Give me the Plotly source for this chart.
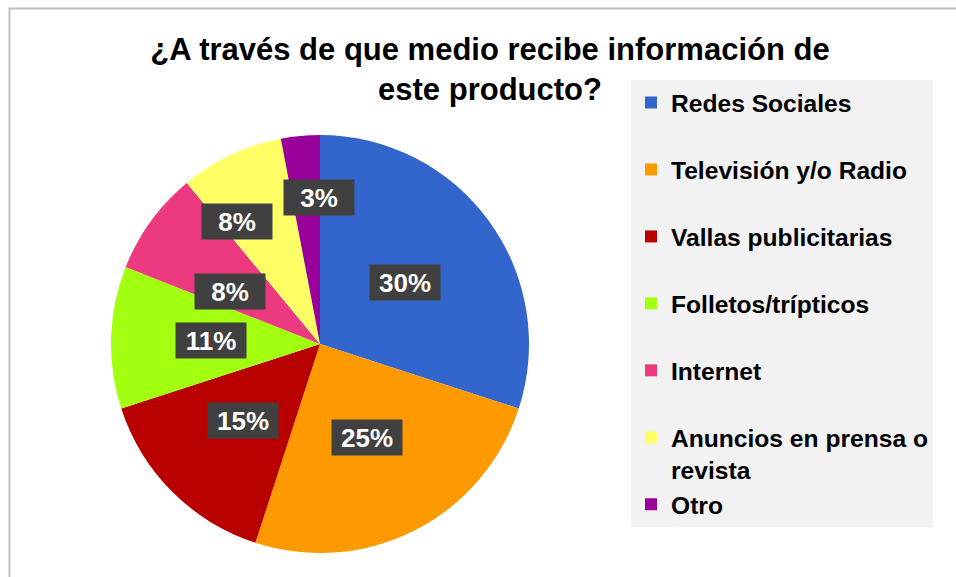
import math
import plotly.graph_objects as go

# Chart data
categories = ["Redes Sociales", "Televisión y/o Radio", "Vallas publicitarias",
              "Folletos/trípticos", "Internet", "Anuncios en prensa o revista", "Otro"]
percent = [30, 25, 15, 11, 8, 8, 3]
colors = ["#3366CC", "#FF9900", "#B80000", "#A2FF10", "#EB3A80", "#FFFF66", "#990099"]

# Label placement (fraction of radius, angle nudge in degrees)
label_r = [0.5, 0.5, 0.52, 0.52, 0.5, 0.71, 0.70]
label_nudge = [0, 0, 0, 0, -6, -9, 5]

W, H = 956, 577
FONT = "Liberation Sans, Arial, sans-serif"

# pie placement in pixels
cx, cy, r = 320, 344, 209


def px(x):
    return x / W


def py(y):
    return 1 - y / H


# legend text: wrap long names, pad short ones to a blank second line
legend_labels = []
for i, c in enumerate(categories):
    if len(c) > 22:
        legend_labels.append(c.replace(" o revista", " o<br>revista"))
    elif i < len(categories) - 1:
        legend_labels.append(c + "<br> ")
    else:
        legend_labels.append(c)

fig = go.Figure()
fig.add_trace(go.Pie(
    labels=legend_labels, values=percent, sort=False, direction="clockwise",
    rotation=0, textinfo="none", hoverinfo="label+percent",
    marker=dict(colors=colors, line=dict(width=0)),
    domain=dict(x=[px(cx - r), px(cx + r)], y=[py(cy + r), py(cy - r)]),
))

# percentage labels in dark boxes
total = sum(percent)
cum = 0
for i, v in enumerate(percent):
    ang = math.radians((cum + v / 2) / total * 360 + label_nudge[i])
    cum += v
    lx = cx + label_r[i] * r * math.sin(ang)
    ly = cy - label_r[i] * r * math.cos(ang)
    fig.add_annotation(
        x=px(lx), y=py(ly), xref="paper", yref="paper", showarrow=False,
        xanchor="center", yanchor="middle",
        text=f"{round(v / total * 100)}%", bgcolor="#404040", borderpad=3,
        width=64, height=29,
        font=dict(family=FONT, size=26, color="white", weight="bold"),
    )

# chart area border
fig.add_shape(type="rect", xref="paper", yref="paper",
              x0=px(9.5), x1=1.05, y0=-0.05, y1=py(8.5),
              line=dict(color="#BFBFBF", width=2), layer="below")

fig.update_layout(
    width=W, height=H,
    margin=dict(l=0, r=0, t=0, b=0, pad=0),
    paper_bgcolor="white", plot_bgcolor="white",
    title=dict(text="¿A través de que medio recibe información de<br>este producto?",
               x=px(490), xanchor="center", y=py(60), yanchor="top",
               font=dict(family=FONT, size=31, color="black", weight="bold")),
    legend=dict(x=px(631), xanchor="left", y=py(80), yanchor="top",
                bgcolor="#F2F2F2", borderwidth=0, valign="top",
                font=dict(family=FONT, size=24.6, color="black", weight="bold")),
    showlegend=True,
)

fig.write_html("out.html", config={"displayModeBar": False},
               post_script="document.body.style.margin='0';")
